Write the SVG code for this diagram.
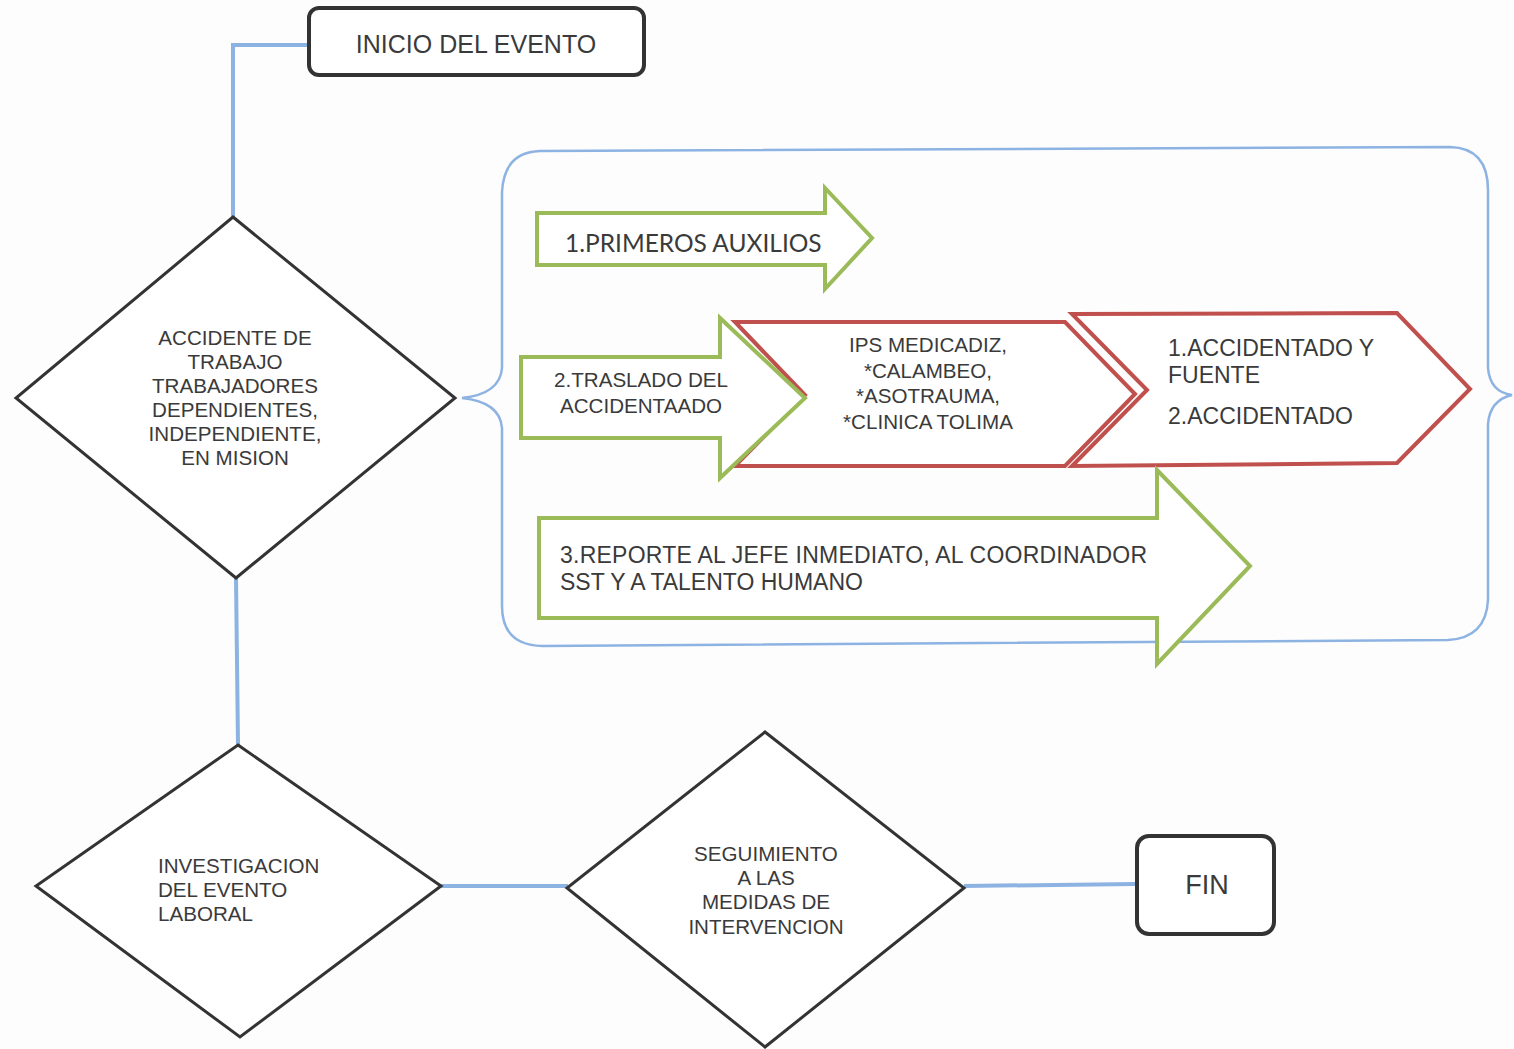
<svg xmlns="http://www.w3.org/2000/svg" width="1514" height="1049" viewBox="0 0 1514 1049">
<style>
.bg{fill:#fdfdfd}
.term{fill:#fff;stroke:#333;stroke-width:4}
.dia{fill:#fff;stroke:#333;stroke-width:3}
.conn{fill:none;stroke:#8db3e2;stroke-width:4}
.brace{fill:none;stroke:#8db3e2;stroke-width:2.5}
.garrow{fill:#fff;stroke:#9bbb59;stroke-width:4;stroke-linejoin:miter}
.rchev{fill:#fff;stroke:#c0504d;stroke-width:4;stroke-linejoin:miter}
text{font-family:"Liberation Sans",Arial,sans-serif;fill:#3a3a3a}
.c{text-anchor:middle}
.s20{font-size:20.6px}
.s23{font-size:23px}
.s25{font-size:25px}
.cal{font-family:Lato,"Open Sans",sans-serif;font-size:24.5px}
</style>
<rect class="bg" x="0" y="0" width="1514" height="1049"/>

<g id="connectors">
<polyline class="conn" points="309,45 233,45 233,217"/>
<line class="conn" x1="236" y1="578" x2="238" y2="745"/>
<line class="conn" x1="441" y1="886" x2="568" y2="886"/>
<line class="conn" x1="964" y1="886" x2="1135" y2="884"/>
</g>

<g id="bracket">
<path class="brace" d="M540,151 L1450,147 Q1488,148 1488,190 L1488,368 Q1490,392 1512,395 Q1490,400 1488,424 L1488,600 Q1486,638 1448,640 L542,646 Q502,645 502,606 L502,428 Q500,402 462,398 Q500,394 502,368 L502,192 Q504,152 540,151 Z"/>
</g>

<g id="inicio">
<rect class="term" x="309" y="8" width="335" height="67" rx="10"/>
<text class="s25 c" x="476" y="53">INICIO DEL EVENTO</text>
</g>

<g id="accidente">
<polygon class="dia" points="233,217 455,398 236,578 16,398"/>
<text class="s20 c" x="235" y="345">ACCIDENTE DE</text>
<text class="s20 c" x="235" y="369">TRABAJO</text>
<text class="s20 c" x="235" y="393">TRABAJADORES</text>
<text class="s20 c" x="235" y="417">DEPENDIENTES,</text>
<text class="s20 c" x="235" y="441">INDEPENDIENTE,</text>
<text class="s20 c" x="235" y="465">EN MISION</text>
</g>

<g id="primeros">
<polygon class="garrow" points="537,213 825,213 825,188 872,238 825,289 825,265 537,265"/>
<text class="cal" x="565" y="252">1.PRIMEROS AUXILIOS</text>
</g>

<g id="ips">
<polygon class="rchev" points="735,322 1065,322 1135,394 1065,466 735,466 805,395"/>
<text class="s20 c" x="928" y="352">IPS MEDICADIZ,</text>
<text class="s20 c" x="928" y="378">*CALAMBEO,</text>
<text class="s20 c" x="928" y="403">*ASOTRAUMA,</text>
<text class="s20 c" x="928" y="429">*CLINICA TOLIMA</text>
</g>

<g id="accidentado">
<polygon class="rchev" points="1072,314 1397,313 1470,389 1397,463 1072,466 1147,390"/>
<text class="s23" x="1168" y="356">1.ACCIDENTADO Y</text>
<text class="s23" x="1168" y="383">FUENTE</text>
<text class="s23" x="1168" y="424">2.ACCIDENTADO</text>
</g>

<g id="traslado">
<polygon class="garrow" points="521,357 720,357 720,318 805,398 720,478 720,438 521,438"/>
<text class="s20 c" x="641" y="387">2.TRASLADO DEL</text>
<text class="s20 c" x="641" y="413">ACCIDENTAADO</text>
</g>

<g id="reporte">
<polygon class="garrow" points="539,518 1157,518 1157,470 1250,566 1157,664 1157,618 539,618"/>
<text class="s23" x="560" y="563" textLength="587">3.REPORTE AL JEFE INMEDIATO, AL COORDINADOR</text>
<text class="s23" x="560" y="590">SST Y A TALENTO HUMANO</text>
</g>

<g id="investigacion">
<polygon class="dia" points="238,745 441,886 240,1037 36,886"/>
<text class="s20" x="158" y="873">INVESTIGACION</text>
<text class="s20" x="158" y="897">DEL EVENTO</text>
<text class="s20" x="158" y="921">LABORAL</text>
</g>

<g id="seguimiento">
<polygon class="dia" points="765,732 964,888 765,1047 567,888"/>
<text class="s20 c" x="766" y="861">SEGUIMIENTO</text>
<text class="s20 c" x="766" y="885">A LAS</text>
<text class="s20 c" x="766" y="909">MEDIDAS DE</text>
<text class="s20 c" x="766" y="934">INTERVENCION</text>
</g>

<g id="fin">
<rect class="term" x="1137" y="836" width="137" height="98" rx="12"/>
<text class="s25 c" x="1207" y="894" style="font-size:27px">FIN</text>
</g>
</svg>
